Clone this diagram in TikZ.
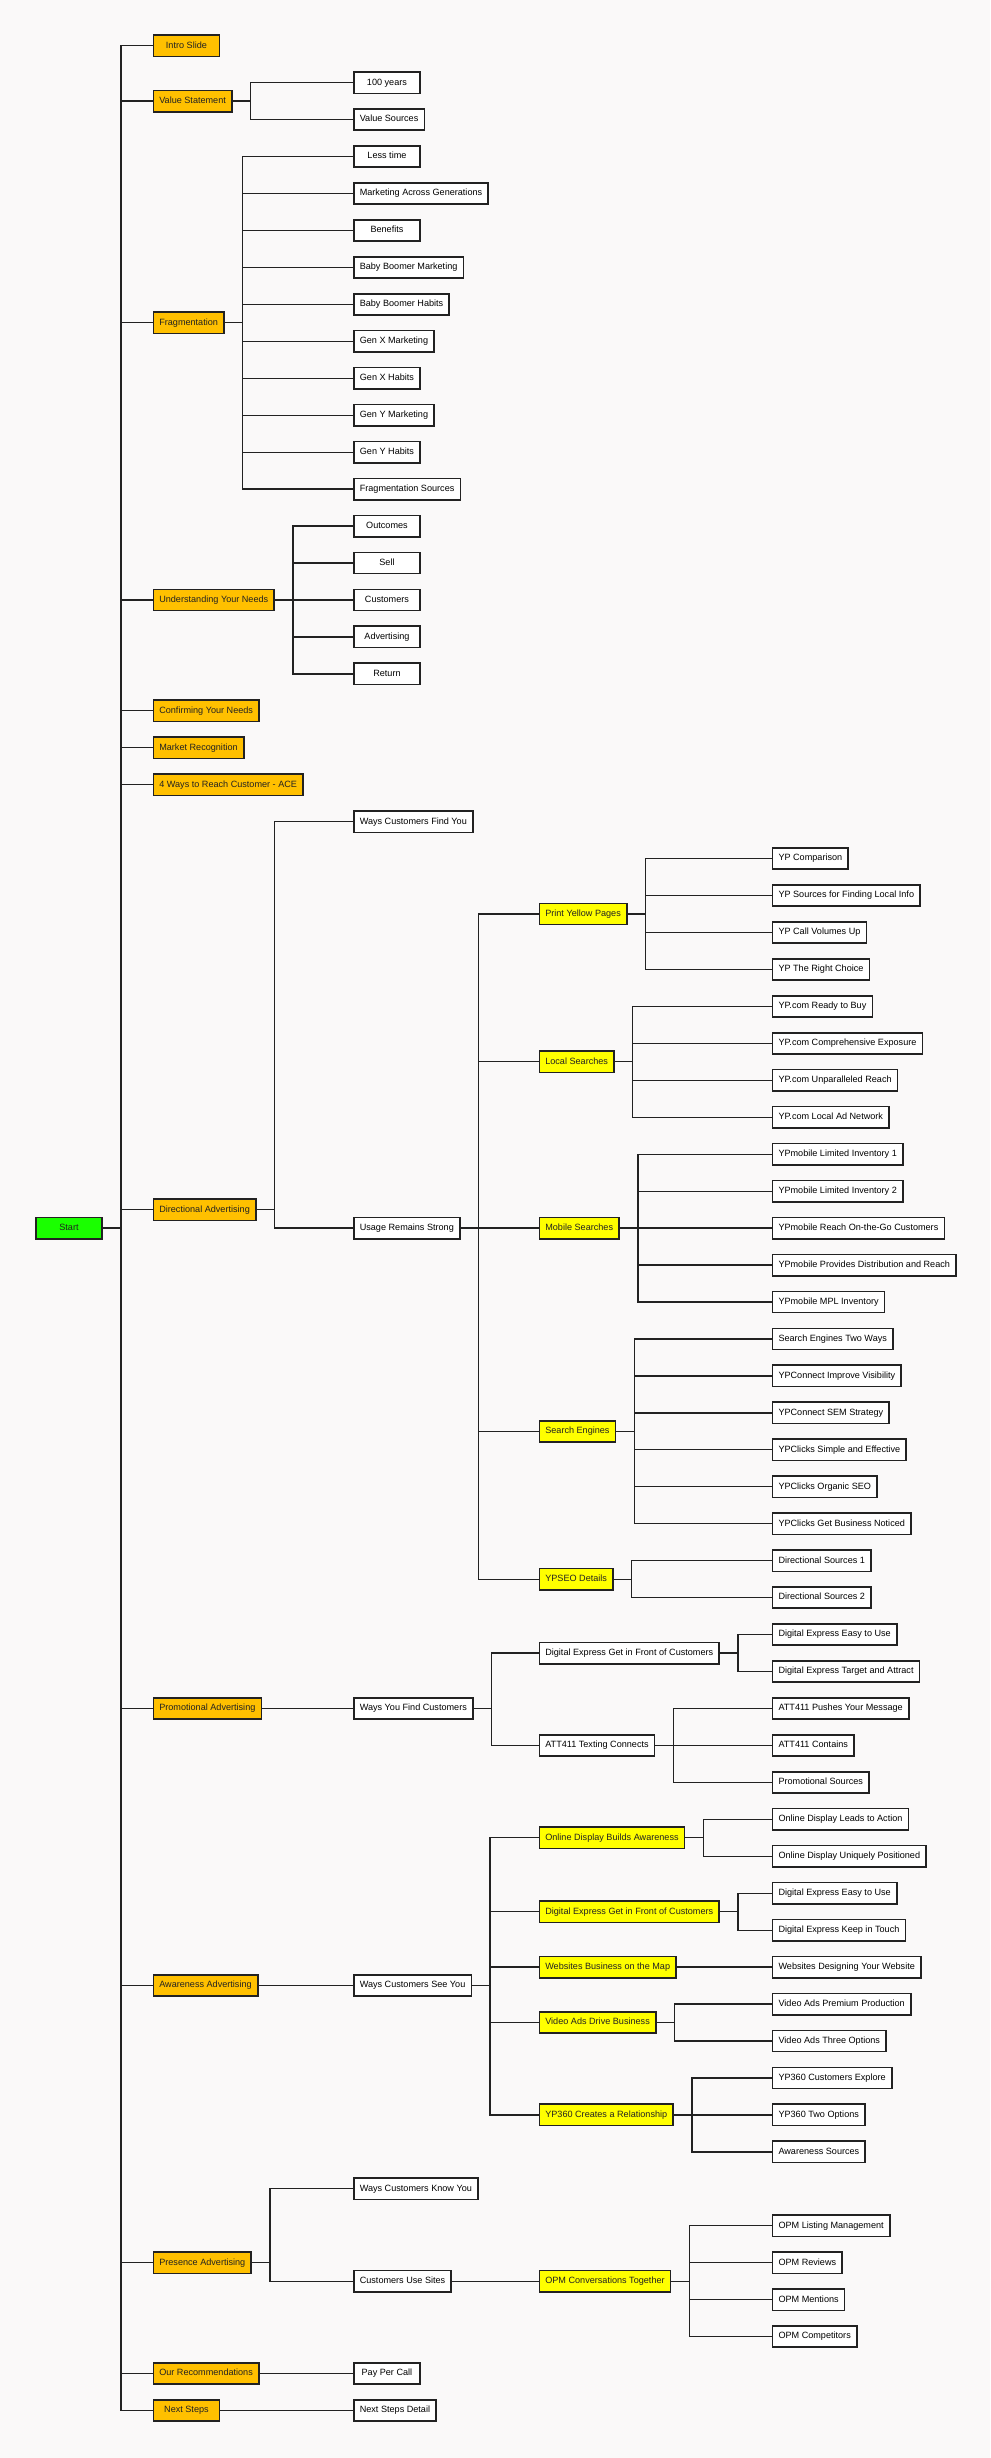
\documentclass[tikz,border=0pt]{standalone}
\usepackage{fontspec}
\setmainfont{Liberation Sans}
\usepackage{tikz}
\usetikzlibrary{positioning}
\definecolor{paper}{RGB}{250,249,249}
\definecolor{ink}{RGB}{34,34,34}
\definecolor{topicfill}{RGB}{255,192,0}
\definecolor{focusfill}{RGB}{255,255,0}
\definecolor{startfill}{RGB}{26,255,0}
\tikzset{
	block/.style={% white boxes of the outline
		draw=ink, rectangle,
		line width=1.6pt,
		fill=white,
		anchor=west,
		minimum width=66.3pt,
		minimum height=21.3pt,
		inner xsep=6pt,
		text height=6.6pt,
		text depth=1.9pt,
		text=black,
		font=\fontsize{9.1pt}{11pt}\selectfont,
		align=center
	},
	topic/.style={block, fill=topicfill, text=ink},
	focus/.style={block, fill=focusfill, text=ink},
	startblock/.style={block, fill=startfill, text=ink},
	link/.style={draw=ink, line width=1.3pt}
}
\begin{document}
\begin{tikzpicture}[x=1pt, y=-36.95pt]
	\fill[paper] (0,-1.237) rectangle (990,65.285);
	
	\node[startblock] (start) at (35,32) {Start};
	
	% first level
	\foreach \name/\row/\txt in {intro/0/Intro Slide, value/1.5/Value Statement,
		frag/7.5/Fragmentation, needs/15/Understanding Your Needs,
		confirm/18/Confirming Your Needs, market/19/Market Recognition,
		ways/20/4 Ways to Reach Customer - ACE, direct/31.5/Directional Advertising,
		promo/45/Promotional Advertising, aware/52.5/Awareness Advertising,
		presence/60/Presence Advertising, recom/63/Our Recommendations,
		next/64/Next Steps}
		\node[topic] (\name) at (152.5,\row) {\txt};
	
	% second level
	\foreach \txt [count=\i] in {100 years, Value Sources, Less time,
		Marketing Across Generations, Benefits, Baby Boomer Marketing,
		Baby Boomer Habits, Gen X Marketing, Gen X Habits, Gen Y Marketing,
		Gen Y Habits, Fragmentation Sources, Outcomes, Sell, Customers,
		Advertising, Return}
		\node[block] (r\i) at (353,\i) {\txt};
	\node[block] (r21) at (353,21) {Ways Customers Find You};
	\node[block] (usage) at (353,32) {Usage Remains Strong};
	\node[block] (findcust) at (353,45) {Ways You Find Customers};
	\node[block] (seeyou) at (353,52.5) {Ways Customers See You};
	\node[block] (r58) at (353,58) {Ways Customers Know You};
	\node[block] (usesites) at (353,60.5) {Customers Use Sites};
	\node[block] (r63) at (353,63) {Pay Per Call};
	\node[block] (r64) at (353,64) {Next Steps Detail};
	
	% third level
	\node[focus] (pyp) at (538.5,23.5) {Print Yellow Pages};
	\node[focus] (local) at (538.5,27.5) {Local Searches};
	\node[focus] (mobile) at (538.5,32) {Mobile Searches};
	\node[focus] (engines) at (538.5,37.5) {Search Engines};
	\node[focus] (ypseo) at (538.5,41.5) {YPSEO Details};
	\node[block] (dexp) at (538.5,43.5) {Digital Express Get in Front of Customers};
	\node[block] (att) at (538.5,46) {ATT411 Texting Connects};
	\node[focus] (online) at (538.5,48.5) {Online Display Builds Awareness};
	\node[focus] (dexa) at (538.5,50.5) {Digital Express Get in Front of Customers};
	\node[focus] (web) at (538.5,52) {Websites Business on the Map};
	\node[focus] (video) at (538.5,53.5) {Video Ads Drive Business};
	\node[focus] (yp360) at (538.5,56) {YP360 Creates a Relationship};
	\node[focus] (opm) at (538.5,60.5) {OPM Conversations Together};
	
	% fourth level
	\foreach \txt [count=\i from 22] in {YP Comparison, YP Sources for Finding Local Info,
		YP Call Volumes Up, YP The Right Choice, YP.com Ready to Buy,
		YP.com Comprehensive Exposure, YP.com Unparalleled Reach, YP.com Local Ad Network,
		YPmobile Limited Inventory 1, YPmobile Limited Inventory 2,
		YPmobile Reach On-the-Go Customers, YPmobile Provides Distribution and Reach,
		YPmobile MPL Inventory, Search Engines Two Ways, YPConnect Improve Visibility,
		YPConnect SEM Strategy, YPClicks Simple and Effective, YPClicks Organic SEO,
		YPClicks Get Business Noticed, Directional Sources 1, Directional Sources 2,
		Digital Express Easy to Use, Digital Express Target and Attract,
		ATT411 Pushes Your Message, ATT411 Contains, Promotional Sources,
		Online Display Leads to Action, Online Display Uniquely Positioned,
		Digital Express Easy to Use, Digital Express Keep in Touch,
		Websites Designing Your Website, Video Ads Premium Production,
		Video Ads Three Options, YP360 Customers Explore, YP360 Two Options,
		Awareness Sources}
		\node[block] (r\i) at (771.7,\i) {\txt};
	\foreach \txt [count=\i from 59] in {OPM Listing Management, OPM Reviews,
		OPM Mentions, OPM Competitors}
		\node[block] (r\i) at (771.7,\i) {\txt};
	
	% forks
	\foreach \c in {intro,value,frag,needs,confirm,market,ways,direct,promo,aware,presence,recom,next}
		\draw[link] (start.east) -- ++(18pt,0) |- (\c.west);
	\foreach \p/\c in {direct/r21, direct/usage, usage/pyp, usage/local, usage/mobile,
		usage/engines, usage/ypseo, promo/findcust, findcust/dexp, findcust/att,
		aware/seeyou, seeyou/online, seeyou/dexa, seeyou/web, seeyou/video, seeyou/yp360,
		presence/r58, presence/usesites, usesites/opm, recom/r63, next/r64}
		\draw[link] (\p.east) -- ++(18pt,0) |- (\c.west);
	\foreach \p/\first/\last in {value/1/2, frag/3/12, needs/13/17, pyp/22/25,
		local/26/29, mobile/30/34, engines/35/40, ypseo/41/42, dexp/43/44, att/45/47,
		online/48/49, dexa/50/51, web/52/52, video/53/54, yp360/55/57, opm/59/62}
		\foreach \i in {\first,...,\last}
			\draw[link] (\p.east) -- ++(18pt,0) |- (r\i.west);
\end{tikzpicture}
\end{document}
